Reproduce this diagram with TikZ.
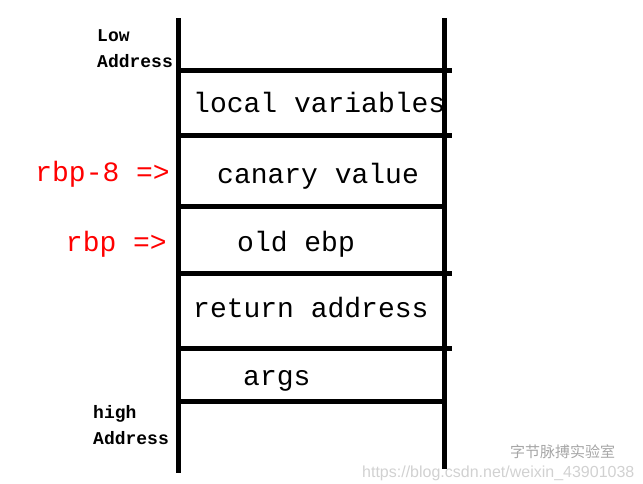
\documentclass[tikz,border=0pt]{standalone}
\usepackage{fontspec}
\setmonofont{Liberation Mono}
\setsansfont{Liberation Sans}
\newfontfamily\cjkfont{Noto Sans CJK SC}

\begin{document}
\begin{tikzpicture}[%
        x = 1pt,
        y = -1pt,
        line cap = butt,
        wall/.style = {%
            draw = black,
            line width = 5pt
        },
        slot/.style = {%
            anchor = base west,
            inner sep = 0pt,
            font = \ttfamily\fontsize{28}{28}\selectfont
        },
        pointer/.style = {%
            slot,
            anchor = base east,
            text = red
        },
        edgelabel/.style = {%
            anchor = base west,
            inner sep = 0pt,
            align = left,
            font = \ttfamily\bfseries\fontsize{18}{26}\selectfont
        },
        watermark/.style = {%
            anchor = base west,
            inner sep = 0pt,
            text = black!18
        }
    ]
        \useasboundingbox (0, 0) rectangle (643, 483);
        % stack walls
        \coordinate (topleft) at (178, 18);
        \coordinate (botleft) at (178, 473);
        \coordinate (topright) at (444, 18);
        \coordinate (botright) at (444, 469);
        \draw[wall] (topleft) to (botleft);
        \draw[wall] (topright) to (botright);
        % slot borders
        \foreach \y/\r in {70/452, 135/452, 206/444, 273/452, 348/452, 401/446}
            \draw[wall] (176, \y) to (\r, \y);
        % slots
        \node[slot] (locals) at (193, 112) {local variables};
        \node[slot] (canary) at (217, 183) {canary value};
        \node[slot] (oldebp) at (237, 251) {old ebp};
        \node[slot] (retaddr) at (193, 317) {return address};
        \node[slot] (args) at (243, 385) {args};
        % pointers
        \node[pointer] (rbpeight) at (170, 181) {rbp-8 =>};
        \node[pointer] (rbp) at (167, 251) {rbp =>};
        % address ends
        \node[edgelabel] (low) at (97, 67) {Low\\Address};
        \node[edgelabel] (high) at (93, 444) {high\\Address};
        % watermark
        \node[watermark, font = \sffamily\fontsize{16}{16}\selectfont] (url) at (362, 477) {https://blog.csdn.net/weixin\_43901038};
        \node[watermark, font = \cjkfont\fontsize{15}{15}\selectfont, text = black!35] (lab) at (510, 457) {字节脉搏实验室};
    \end{tikzpicture}
\end{document}
